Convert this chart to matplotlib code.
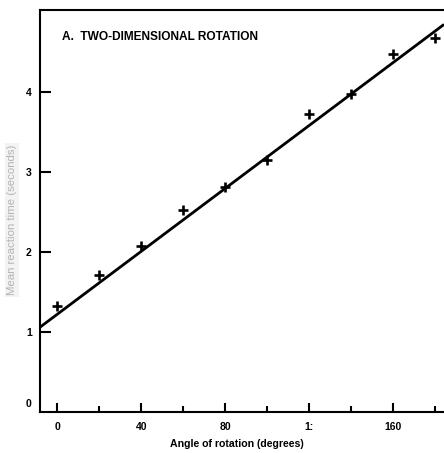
import matplotlib
matplotlib.use("Agg")
import matplotlib.pyplot as plt
import matplotlib.transforms as mtrans
import numpy as np

# Data
angles = [0, 20, 40, 60, 80, 100, 120, 140, 160, 180]
reaction_times = [1.33, 1.71, 2.075, 2.525, 2.81, 3.15, 3.72, 3.98, 4.48, 4.67]
fit_intercept = 1.223
fit_slope = 0.01964
major_ticks = [0, 40, 80, 120, 160]
major_labels = ["0", "40", "80", "1:", "160"]
minor_ticks = [20, 60, 100, 140, 180]
y_ticks = [0, 1, 2, 3, 4]
y_labels = ["0", "1", "2", "3", "4"]

plt.rcParams['font.family'] = ['Liberation Sans', 'DejaVu Sans']

W, H = 444, 453
fig = plt.figure(figsize=(W / 100, H / 100), dpi=100)
ax = fig.add_axes([40 / W, (H - 412) / H, (W - 40) / W, 402 / H])

xmin, xmax = -8.3, 184.4
ax.set_xlim(xmin, xmax)
ax.set_ylim(0, 5.025)

fx = np.array([xmin, xmax])
ax.plot(fx, fit_intercept + fit_slope * fx, color='black', lw=2.0, solid_capstyle='butt', zorder=2)
ax.plot(angles, reaction_times, linestyle='none', marker='+', color='black',
        markersize=7, markeredgewidth=1.9, zorder=3, clip_on=False)

for s in ['left', 'bottom', 'top']:
    ax.spines[s].set_linewidth(1.5)
ax.spines['right'].set_visible(False)

ax.set_xticks(major_ticks)
ax.set_xticklabels(major_labels, fontsize=7.5, fontweight='bold')
ax.set_xticks(minor_ticks, minor=True)
ax.tick_params(axis='x', which='major', direction='in', length=6.5, width=1.5, pad=7)
ax.tick_params(axis='x', which='minor', direction='in', length=4.3, width=1.5)

ax.set_yticks(y_ticks)
ax.set_yticklabels(y_labels, fontsize=7.5, fontweight='bold')
ax.tick_params(axis='y', which='major', direction='in', length=8, width=1.5, pad=6)
ax.tick_params(axis='y', which='minor', left=False)
ax.yaxis.get_major_ticks()[0].tick1line.set_visible(False)
lbl0 = ax.yaxis.get_major_ticks()[0].label1
lbl0.set_transform(lbl0.get_transform() + mtrans.ScaledTranslation(0, 9 / 100, fig.dpi_scale_trans))

fig.text(62 / W, 1 - 37 / H, "A.  TWO-DIMENSIONAL ROTATION", fontsize=8.6, fontweight='bold',
         ha='left', va='center')
fig.text(237 / W, 1 - 444 / H, "Angle of rotation (degrees)", fontsize=7.6, fontweight='bold',
         ha='center', va='center')
fig.text(12 / W, 1 - 220 / H, "Mean reaction time (seconds)", fontsize=8.2, color='#b3b3b3',
         rotation=90, ha='center', va='center',
         bbox=dict(facecolor='#f3f3f3', edgecolor='none', pad=1.5))

fig.savefig("out.png", dpi=100)
